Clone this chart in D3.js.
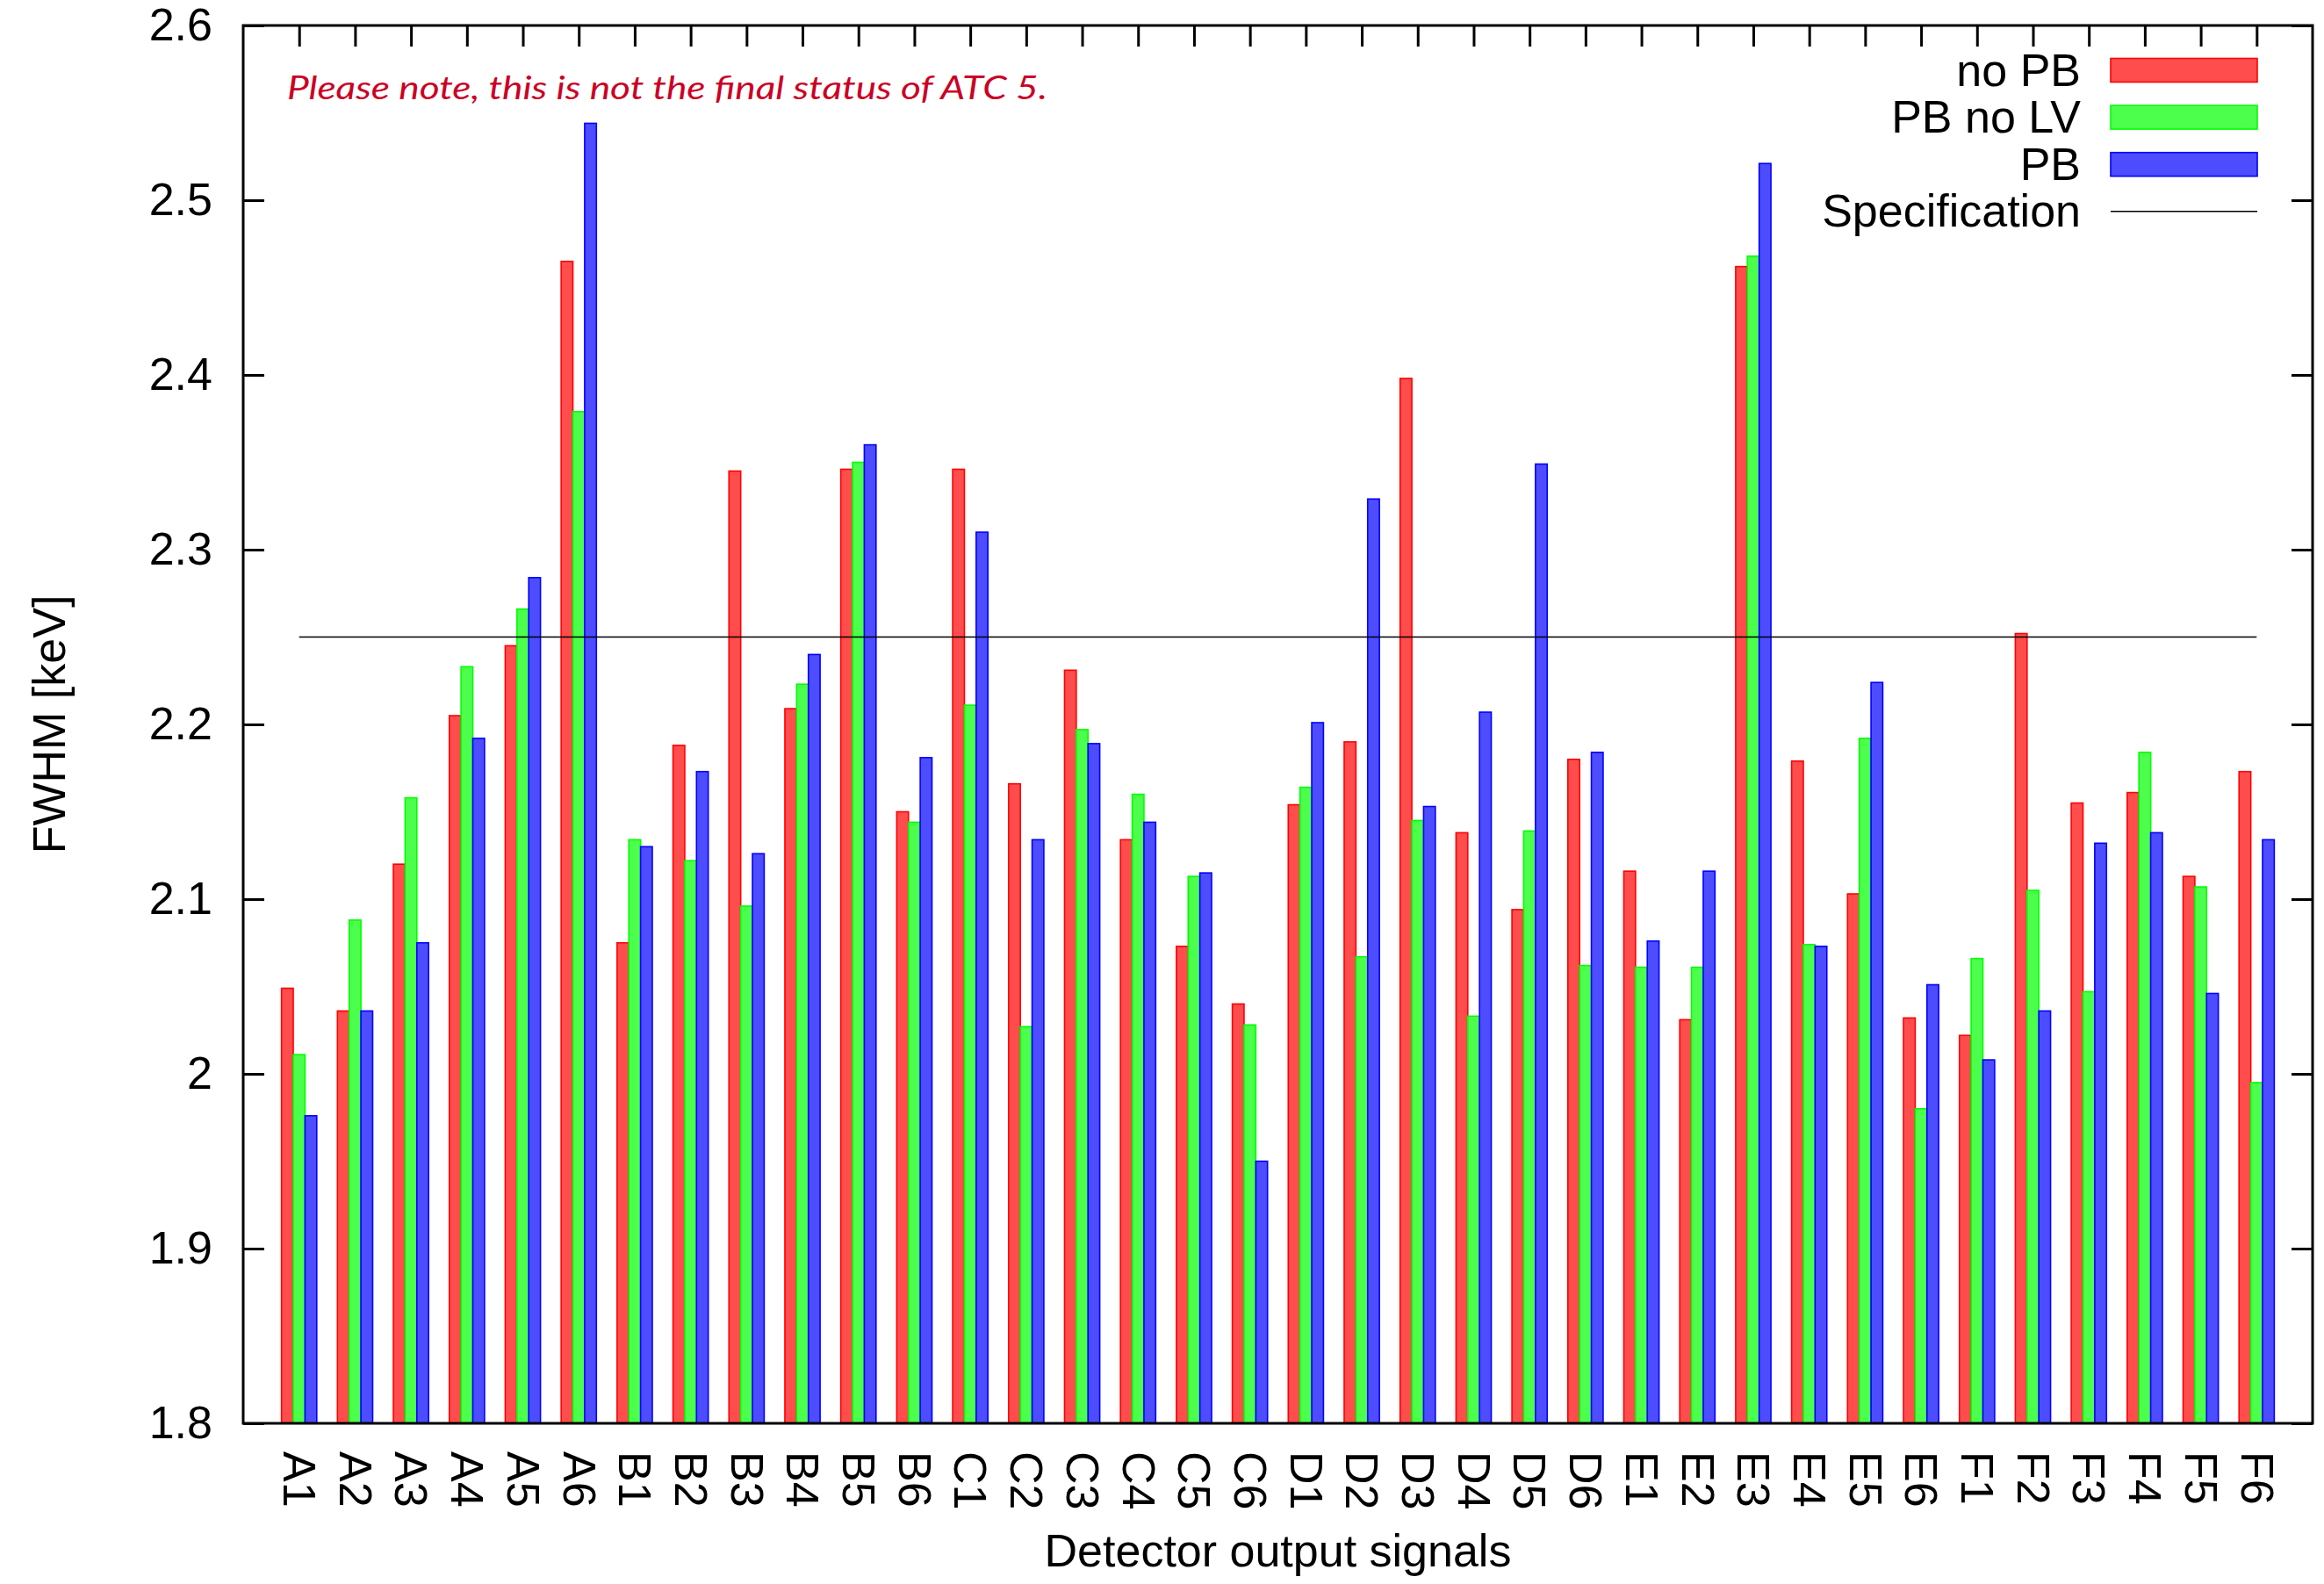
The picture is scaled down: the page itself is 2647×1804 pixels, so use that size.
<!DOCTYPE html>
<html>
<head>
<meta charset="utf-8">
<script src="https://cdn.jsdelivr.net/npm/d3@7"></script>
<style>
  html, body { margin: 0; padding: 0; background: #fff; }
  svg { display: block; }
</style>
</head>
<body>
<script>
// Detector channels on the x axis
const categories = [
  "A1","A2","A3","A4","A5","A6",
  "B1","B2","B3","B4","B5","B6",
  "C1","C2","C3","C4","C5","C6",
  "D1","D2","D3","D4","D5","D6",
  "E1","E2","E3","E4","E5","E6",
  "F1","F2","F3","F4","F5","F6"
];

// FWHM [keV] per channel and configuration
const noPB = [
  2.049, 2.036, 2.120, 2.205, 2.245, 2.465,
  2.075, 2.188, 2.345, 2.209, 2.346, 2.150,
  2.346, 2.166, 2.231, 2.134, 2.073, 2.040,
  2.154, 2.190, 2.398, 2.138, 2.094, 2.180,
  2.116, 2.031, 2.462, 2.179, 2.103, 2.032,
  2.022, 2.252, 2.155, 2.161, 2.113, 2.173
];
const pbNoLV = [
  2.011, 2.088, 2.158, 2.233, 2.266, 2.379,
  2.134, 2.122, 2.096, 2.223, 2.350, 2.144,
  2.211, 2.027, 2.197, 2.160, 2.113, 2.028,
  2.164, 2.067, 2.145, 2.033, 2.139, 2.062,
  2.061, 2.061, 2.468, 2.074, 2.192, 1.980,
  2.066, 2.105, 2.047, 2.184, 2.107, 1.995
];
const pb = [
  1.976, 2.036, 2.075, 2.192, 2.284, 2.544,
  2.130, 2.173, 2.126, 2.240, 2.360, 2.181,
  2.310, 2.134, 2.189, 2.144, 2.115, 1.950,
  2.201, 2.329, 2.153, 2.207, 2.349, 2.184,
  2.076, 2.116, 2.521, 2.073, 2.224, 2.051,
  2.008, 2.036, 2.132, 2.138, 2.046, 2.134
];

const seriesNames = ["no PB", "PB no LV", "PB"];
const specification = 2.25;
const yTicks = [1.8, 1.9, 2.0, 2.1, 2.2, 2.3, 2.4, 2.5, 2.6];
const note = "Please note, this is not the final status of ATC 5.";

(function () {
  const W = 2647, H = 1804;
  const plotL = 277, plotR = 2634, plotT = 29, plotB = 1621;
  const FONT = "'Liberation Sans', Arial, Helvetica, sans-serif";

  const series = [
    { name: seriesNames[0], values: noPB,   fill: "rgb(255,77,77)", stroke: "rgb(255,0,0)" },
    { name: seriesNames[1], values: pbNoLV, fill: "rgb(77,255,77)", stroke: "rgb(0,255,0)" },
    { name: seriesNames[2], values: pb,     fill: "rgb(77,77,255)", stroke: "rgb(0,0,255)" }
  ];

  const svg = d3.select("body").append("svg")
    .attr("width", W).attr("height", H)
    .style("font-family", FONT);

  svg.append("rect").attr("width", W).attr("height", H).attr("fill", "#fff");

  const x = d3.scaleLinear().domain([-1, categories.length]).range([plotL, plotR]);
  const y = d3.scaleLinear().domain([1.8, 2.6]).range([plotB, plotT]);
  const idx = d3.range(categories.length);
  const barW = (x(1) - x(0)) * 0.21;

  // axes with inward ticks
  const axisStyle = g => {
    g.select(".domain").remove();
    g.selectAll(".tick line").attr("stroke", "#000").attr("stroke-width", 3);
    g.selectAll(".tick text").attr("fill", "#000").style("font-size", "52px").style("font-family", FONT);
  };

  svg.append("g").attr("transform", `translate(${plotL},0)`)
    .call(d3.axisLeft(y).tickValues(yTicks).tickSize(-24).tickPadding(35).tickFormat(d3.format("")))
    .call(axisStyle);

  svg.append("g").attr("transform", `translate(${plotR},0)`)
    .call(d3.axisRight(y).tickValues(yTicks).tickSize(-24).tickFormat(""))
    .call(axisStyle);

  svg.append("g").attr("transform", `translate(0,${plotT})`)
    .call(d3.axisTop(x).tickValues(idx).tickSize(-24).tickFormat(""))
    .call(axisStyle);

  const xAxis = svg.append("g").attr("transform", `translate(0,${plotB})`)
    .call(d3.axisBottom(x).tickValues(idx).tickSize(-24).tickFormat(i => categories[i]))
    .call(axisStyle);
  xAxis.selectAll(".tick text")
    .attr("transform", "rotate(90)")
    .attr("x", 32).attr("y", 0).attr("dy", "0.35em")
    .attr("text-anchor", "start");

  // grouped bars
  series.forEach((s, k) => {
    svg.append("g").selectAll("rect")
      .data(s.values)
      .join("rect")
      .attr("x", (d, i) => x(i) + (k - 1) * barW - barW / 2)
      .attr("y", d => y(d))
      .attr("width", barW)
      .attr("height", d => y(1.8) - y(d))
      .attr("fill", s.fill)
      .attr("stroke", s.stroke)
      .attr("stroke-width", 1.6);
  });

  // specification level
  svg.append("line")
    .attr("x1", x(0)).attr("x2", x(categories.length - 1))
    .attr("y1", y(specification)).attr("y2", y(specification))
    .attr("stroke", "#000").attr("stroke-width", 1.6);

  // frame
  svg.append("rect")
    .attr("x", plotL).attr("y", plotT)
    .attr("width", plotR - plotL).attr("height", plotB - plotT)
    .attr("fill", "none").attr("stroke", "#000").attr("stroke-width", 3);

  // annotation
  svg.append("text")
    .attr("x", 327).attr("y", 113)
    .attr("fill", "rgb(204,0,36)")
    .style("font-family", "Lato, 'Open Sans', sans-serif")
    .style("font-style", "italic")
    .style("font-size", "37px")
    .attr("textLength", 866).attr("lengthAdjust", "spacingAndGlyphs")
    .text(note);

  // legend
  const legend = svg.append("g");
  const legendItems = [...series, { name: "Specification", line: true }];
  legendItems.forEach((s, k) => {
    const base = 97.5 + k * 53.6;
    legend.append("text")
      .attr("x", 2370).attr("y", base)
      .attr("text-anchor", "end")
      .style("font-size", "52px")
      .attr("fill", "#000")
      .text(s.name);
    const cy = base - 17.5;
    if (s.line) {
      legend.append("line")
        .attr("x1", 2404).attr("x2", 2571).attr("y1", cy).attr("y2", cy)
        .attr("stroke", "#000").attr("stroke-width", 1.6);
    } else {
      legend.append("rect")
        .attr("x", 2404).attr("y", cy - 13.5)
        .attr("width", 167).attr("height", 27)
        .attr("fill", s.fill).attr("stroke", s.stroke).attr("stroke-width", 1.6);
    }
  });

  // axis titles
  svg.append("text")
    .attr("x", (plotL + plotR) / 2).attr("y", 1784)
    .attr("text-anchor", "middle")
    .style("font-size", "52px")
    .text("Detector output signals");

  svg.append("text")
    .attr("transform", "translate(74,825) rotate(-90)")
    .attr("text-anchor", "middle")
    .style("font-size", "52px")
    .text("FWHM [keV]");
})();
</script>
</body>
</html>
